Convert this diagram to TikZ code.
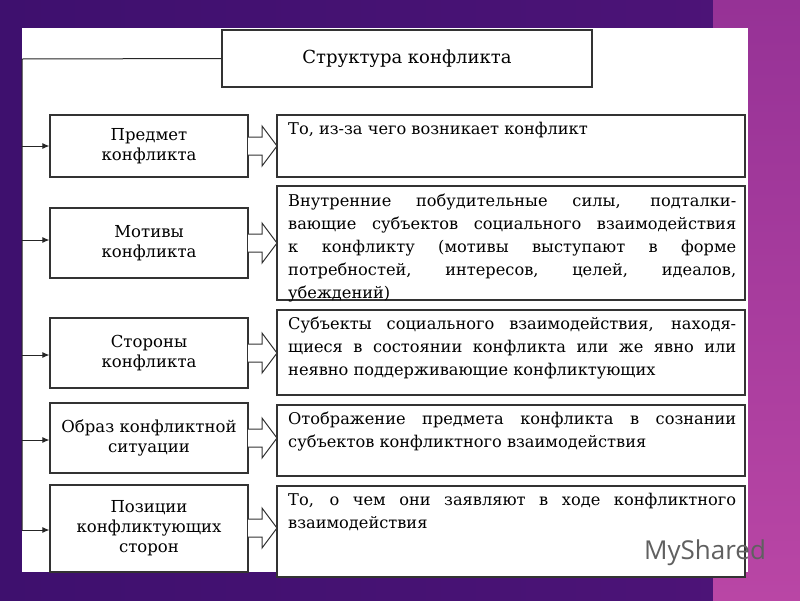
\documentclass[tikz,border=0pt]{standalone}
\usepackage{fontspec}
\setmainfont{DejaVu Serif}
\newfontfamily\wmfont{Open Sans}
\usetikzlibrary{arrows.meta}
\definecolor{bgpurple}{RGB}{62,16,110}
\definecolor{bgpurple2}{RGB}{78,20,120}
\definecolor{pinkA}{RGB}{150,50,150}
\definecolor{pinkB}{RGB}{185,70,165}
\begin{document}
\begin{tikzpicture}[x=1pt,y=-1pt,
  box/.style={draw=black!80,line width=1.2pt,fill=white},
  lbl/.style={font=\fontsize{16.5}{20}\selectfont,align=center},
  rt/.style={font=\fontsize{16.2}{23}\selectfont,align=justify,text width=448pt,anchor=north west,inner sep=0pt},
  conn/.style={draw=black!85,line width=1pt,-{Latex[length=7pt,width=6pt]}},
  barrow/.style={draw=black!80,line width=1pt,fill=white}]
\useasboundingbox (0,0) rectangle (800,600);
\fill[left color=bgpurple,right color=bgpurple2] (0,0) rectangle (800,600);
\fill[top color=pinkA,bottom color=pinkB] (713,0) rectangle (800,600);
\fill[white] (22,28) rectangle (748,572);
% title
\node[box,minimum width=370pt,minimum height=57pt,font=\fontsize{18}{22}\selectfont] (t) at (407,58.5) {Структура конфликта};
\coordinate (c0) at (22,59);
% left boxes
\node[box,lbl,minimum width=198pt,minimum height=62pt] (l1) at (149,146) {Предмет\\конфликта};
\node[box,lbl,minimum width=198pt,minimum height=70pt] (l2) at (149,243) {Мотивы\\конфликта};
\node[box,lbl,minimum width=198pt,minimum height=70pt] (l3) at (149,353) {Стороны\\конфликта};
\node[box,lbl,minimum width=198pt,minimum height=70pt] (l4) at (149,438) {Образ конфликтной\\ситуации};
\node[box,lbl,minimum width=198pt,minimum height=87pt] (l5) at (149,528.5) {Позиции\\конфликтующих\\сторон};
% right boxes
\draw[box] (277,115) rectangle (745,177);
\draw[box] (277,186) rectangle (745,300);
\draw[box] (277,310) rectangle (745,395);
\draw[box] (277,405) rectangle (745,476);
\draw[box] (277,486) rectangle (745,577);
\node[rt] (r1) at (288,122) {То, из-за чего возникает конфликт};
\node[rt] (r2) at (288,194) {Внутренние побудительные силы, подталки\-вающие субъектов социального взаимодействия к конфликту (мотивы выступают в форме потребностей, интересов, целей, идеалов, убеждений)};
\node[rt] (r3) at (288,317) {Субъекты социального взаимодействия, находя\-щиеся в состоянии конфликта или же явно или неявно поддерживающие конфликтующих};
\node[rt] (r4) at (288,412) {Отображение предмета конфликта в сознании субъектов конфликтного взаимодействия};
\node[rt] (r5) at (288,493) {То, о чем они заявляют в ходе конфликтного взаимодействия};
% left connector
\draw[draw=black!85,line width=1pt] (t.west) -- (c0) -- (22,530);
\foreach \n/\y in {l1/146,l2/240,l3/355,l4/440,l5/530}{
  \draw[conn] (22,\y) -- (\n.west |- 0,\y);
}
% block arrows
\foreach \y in {146,243,353,438,528}{
  \draw[barrow] (248,\y-9) -- (262,\y-9) -- (262,\y-20) -- (277,\y) -- (262,\y+20) -- (262,\y+9) -- (248,\y+9);
}
\node[text=gray!75!black,font=\wmfont\fontsize{26}{28}\selectfont] (wm) at (705,553) {MyShared};
\end{tikzpicture}
\end{document}
